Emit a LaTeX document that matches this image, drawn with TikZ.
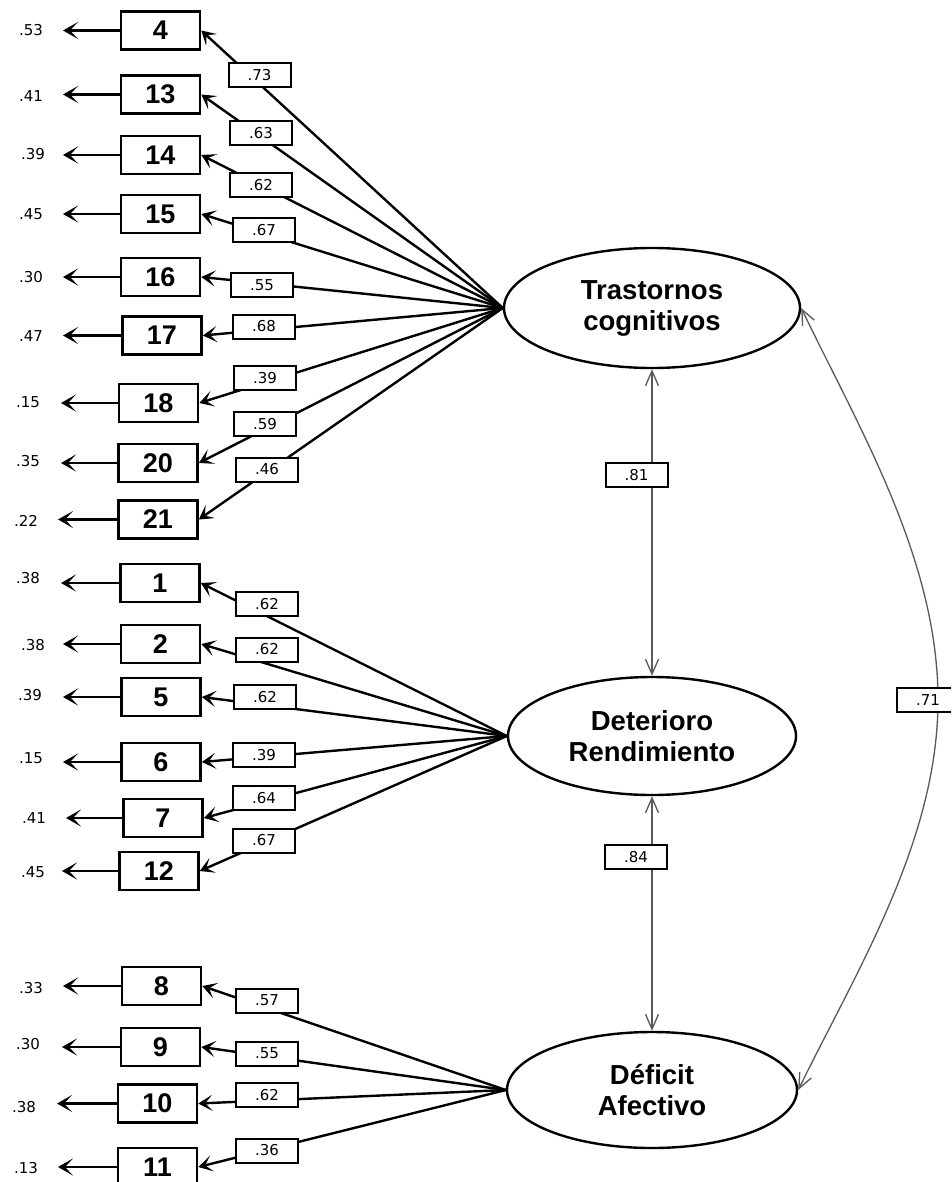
\documentclass[tikz,border=0pt]{standalone}
\usepackage{fontspec}
\setmainfont{Liberation Sans}
\newfontfamily\numfont{DejaVu Sans}
\usetikzlibrary{shapes.geometric,arrows.meta}

\tikzset{
  indicator/.style={draw, line width=2.6pt, minimum width=79pt, minimum height=38pt,
    inner sep=0pt, font=\fontsize{27}{27}\selectfont\bfseries},
  latent/.style={draw, ellipse, line width=2.4pt, inner sep=0pt, align=center,
    font=\fontsize{27.5}{31}\selectfont\bfseries},
  coef/.style={draw, line width=2pt, fill=white, minimum width=62pt, minimum height=24pt,
    inner sep=0pt, font=\numfont\fontsize{15}{15}\selectfont},
  errlab/.style={inner sep=0pt, font=\numfont\fontsize{15}{15}\selectfont},
  loadline/.style={line width=2.4pt, -{Stealth[length=14pt,width=16pt,inset=7pt]}},
  errarrow/.style={line width=2.8pt, -{Stealth[length=15pt,width=17pt,inset=8pt]}},
  cov/.style={line width=1.3pt, draw=black!65,
    {Straight Barb[length=15pt,width=13pt]}-{Straight Barb[length=15pt,width=13pt]}},
}

\begin{document}
\begin{tikzpicture}[x=1pt,y=-1pt]
  \clip (0,0) rectangle (951,1182);
  \fill[white] (0,0) rectangle (951,1182);

  % latent factors
  \node[latent, minimum width=296pt, minimum height=120pt] (tc) at (652,308) {Trastornos\\cognitivos};
  \node[latent, minimum width=288pt, minimum height=118pt] (dr) at (652,736) {Deterioro\\Rendimiento};
  \node[latent, minimum width=290pt, minimum height=116pt] (da) at (652,1090) {Déficit\\Afectivo};

  % observed items with their error variances
  \foreach \n/\cx/\cy/\e/\ex/\ey/\tx in {
      4/160.5/30.5/.53/31/30/63,
      13/160.5/94.5/.41/31/96/63,
      14/160.5/155/.39/33/154/63,
      15/160.5/214/.45/31/214/63,
      16/160.5/277/.30/31/277/63,
      17/162/335.5/.47/31/336/63,
      18/158.5/403/.15/28/402/61,
      20/158/463/.35/28/461/61,
      21/158/519.5/.22/26/521/58,
      1/160/583/.38/28/578/61,
      2/160.5/644/.38/33/645/63,
      5/161/697/.39/30/695/63,
      6/161/762/.15/31/758/63,
      7/163/818/.41/34/818/66,
      12/159/871/.45/33/872/62,
      8/161.5/986/.33/31/988/63,
      9/160.5/1047/.30/28/1044/62,
      10/157.5/1103.5/.38/24/1107/57,
      11/157.5/1167/.13/26/1168/58} {
    \node[indicator] (v\n) at (\cx,\cy) {\n};
    \coordinate (t\n) at (\tx,\cy);
    \draw[errarrow] (v\n.west) -- (t\n);
    \node[errlab] (e\n) at (\ex,\ey) {\e};
  }

  % factor loadings
  \foreach \f/\n in {tc/4,tc/13,tc/14,tc/15,tc/16,tc/17,tc/18,tc/20,tc/21,
                     dr/1,dr/2,dr/5,dr/6,dr/7,dr/12,
                     da/8,da/9,da/10,da/11} {
    \draw[loadline] (\f.west) -- (v\n.east);
  }
  \foreach \n/\c/\lx/\ly in {
      4/.73/259.5/75.5, 13/.63/261/133, 14/.62/261/185, 15/.67/264/230.5,
      16/.55/262/285, 17/.68/264/326.5, 18/.39/265/378, 20/.59/265/424,
      21/.46/267/469.5,
      1/.62/267/604, 2/.62/267/649.5, 5/.62/265/697, 6/.39/264/755,
      7/.64/264/798, 12/.67/264/840.5,
      8/.57/267/1000.5, 9/.55/267/1053.5, 10/.62/267/1095, 11/.36/267/1150.5} {
    \node[coef] (l\n) at (\lx,\ly) {\c};
  }

  % correlations between factors
  \draw[cov] (tc.south) -- (dr.north);
  \draw[cov] (dr.south) -- (da.north);
  \coordinate (bulge) at (938,700);
  \draw[cov] (tc.east) .. controls (860,430) and (938,560) .. (bulge)
                       .. controls (938,840) and (857,970) .. (da.east);
  \node[coef] (r81) at (636.5,475) {.81};
  \node[coef] (r84) at (636,857) {.84};
  \node[coef] (r71) at (928,700) {.71};
\end{tikzpicture}
\end{document}
